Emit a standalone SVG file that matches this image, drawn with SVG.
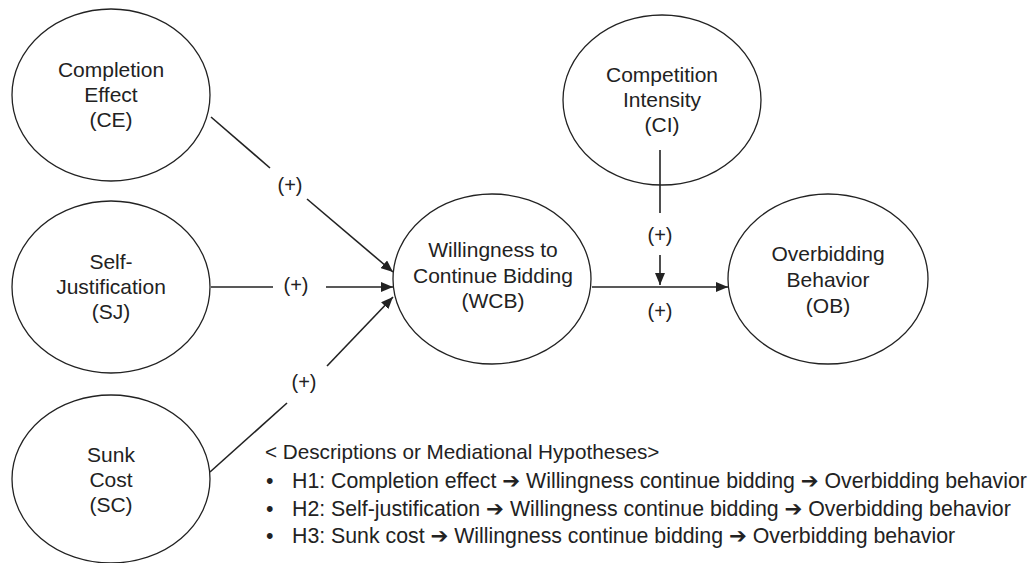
<svg xmlns="http://www.w3.org/2000/svg" width="1036" height="563" viewBox="0 0 1036 563">
<style>
.node ellipse{fill:#fff;stroke:#222;stroke-width:1.3}
.node text{font-family:"Liberation Sans",Arial,sans-serif;font-size:21px;fill:#222;text-anchor:middle}
.lbl{font-family:"Liberation Sans",Arial,sans-serif;font-size:20px;fill:#222;text-anchor:middle}
.con line{stroke:#222;stroke-width:1.6}
.desc{font-family:"Liberation Sans",Arial,"DejaVu Sans",sans-serif;font-size:21.3px;fill:#222}
.head{font-size:20.7px}
</style>
<defs>
<marker id="ah" markerUnits="userSpaceOnUse" markerWidth="12" markerHeight="10" refX="12" refY="5" orient="auto">
<path d="M0,0 L12,5 L0,10 z" fill="#222"/>
</marker>
</defs>
<rect width="1036" height="563" fill="#fff"/>
<g id="CE" class="node">
<ellipse cx="111" cy="95" rx="99" ry="86"/>
<text x="111" y="77">Completion</text>
<text x="111" y="102">Effect</text>
<text x="111" y="127">(CE)</text>
</g>
<g id="SJ" class="node">
<ellipse cx="111" cy="287" rx="99" ry="86"/>
<text x="111" y="269">Self-</text>
<text x="111" y="294">Justification</text>
<text x="111" y="319">(SJ)</text>
</g>
<g id="SC" class="node">
<ellipse cx="111" cy="479" rx="99" ry="84"/>
<text x="111" y="462">Sunk</text>
<text x="111" y="487">Cost</text>
<text x="111" y="512">(SC)</text>
</g>
<g id="WCB" class="node">
<ellipse cx="492" cy="279" rx="99" ry="85"/>
<text x="493" y="257">Willingness to</text>
<text x="493" y="283">Continue Bidding</text>
<text x="493" y="308">(WCB)</text>
</g>
<g id="CI" class="node">
<ellipse cx="662" cy="100" rx="99" ry="85"/>
<text x="662" y="82">Competition</text>
<text x="662" y="107">Intensity</text>
<text x="662" y="132">(CI)</text>
</g>
<g id="OB" class="node">
<ellipse cx="828" cy="279" rx="100" ry="85"/>
<text x="828" y="261">Overbidding</text>
<text x="828" y="287">Behavior</text>
<text x="828" y="313">(OB)</text>
</g>
<g id="connectors" class="con">
<line x1="211" y1="117" x2="270" y2="168"/>
<line x1="307" y1="199" x2="393" y2="272" marker-end="url(#ah)"/>
<line x1="211" y1="287" x2="273" y2="287"/>
<line x1="326" y1="287" x2="393" y2="287" marker-end="url(#ah)"/>
<line x1="210" y1="472" x2="287" y2="403"/>
<line x1="327" y1="366" x2="393" y2="297" marker-end="url(#ah)"/>
<line x1="592" y1="287" x2="728" y2="287" marker-end="url(#ah)"/>
<line x1="660" y1="150" x2="660" y2="213"/>
<line x1="660" y1="255" x2="660" y2="285" marker-end="url(#ah)"/>
<text class="lbl" x="290" y="192">(+)</text>
<text class="lbl" x="296" y="292">(+)</text>
<text class="lbl" x="304" y="389">(+)</text>
<text class="lbl" x="660" y="242">(+)</text>
<text class="lbl" x="660" y="318">(+)</text>
</g>
<g id="descriptions" class="desc">
<text class="head" x="265" y="459">&lt; Descriptions or Mediational Hypotheses&gt;</text>
<text x="266" y="488">•</text>
<text x="292" y="488">H1: Completion effect ➔ Willingness continue bidding ➔ Overbidding behavior</text>
<text x="266" y="516">•</text>
<text x="292" y="516">H2: Self-justification ➔ Willingness continue bidding ➔ Overbidding behavior</text>
<text x="266" y="543">•</text>
<text x="292" y="543">H3: Sunk cost ➔ Willingness continue bidding ➔ Overbidding behavior</text>
</g>
</svg>
